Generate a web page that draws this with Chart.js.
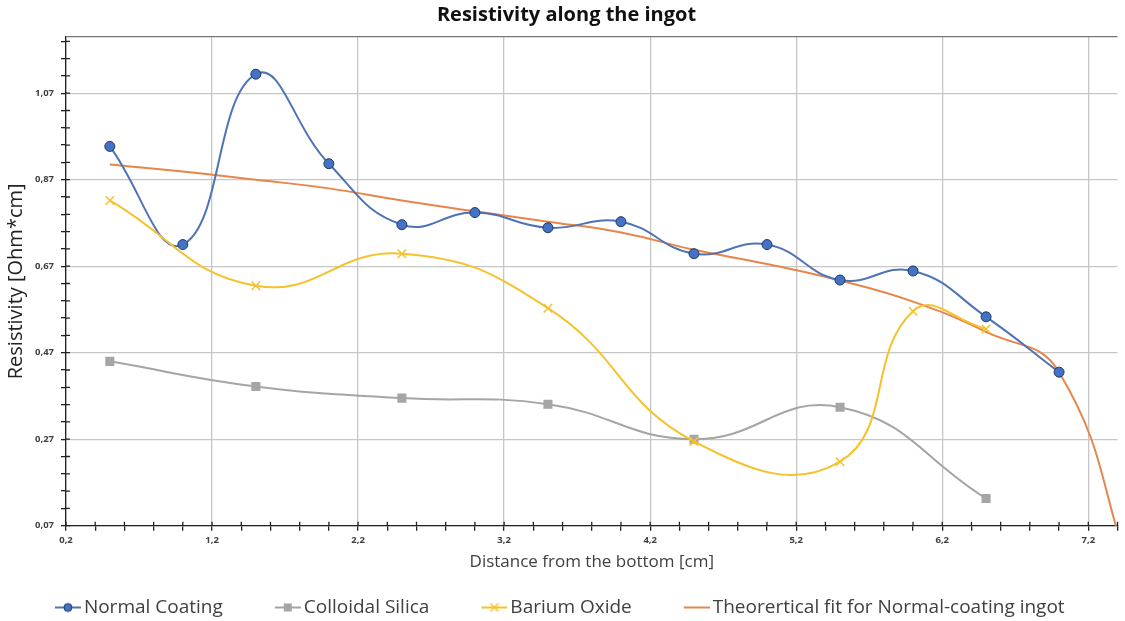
<!DOCTYPE html>
<html>
<head>
<meta charset="utf-8">
<script src="https://cdn.jsdelivr.net/npm/chart.js@4/dist/chart.umd.min.js"></script>
<style>
  html, body { margin: 0; padding: 0; background: #fff; }
  #wrap { width: 1125px; height: 621px; }
</style>
</head>
<body>
<div id="wrap"><canvas id="chart"></canvas></div>
<script>
const FONT = "'Open Sans', 'Noto Sans', sans-serif";

// x positions (cm) and resistivity values
const normalX = [0.5, 1, 1.5, 2, 2.5, 3, 3.5, 4, 4.5, 5, 5.5, 6, 6.5, 7];
const normalY = [0.947, 0.72, 1.114, 0.907, 0.766, 0.794, 0.759, 0.773, 0.699, 0.72, 0.638, 0.659, 0.553, 0.425];

const silicaX = [0.5, 1.5, 2.5, 3.5, 4.5, 5.5, 6.5];
const silicaY = [0.45, 0.392, 0.365, 0.351, 0.27, 0.344, 0.133];

const bariumX = [0.5, 1.5, 2.5, 3.5, 4.5, 5.5, 6, 6.5];
const bariumY = [0.822, 0.625, 0.699, 0.573, 0.265, 0.218, 0.566, 0.525];

const fitX = [0.5, 1, 1.5, 2, 2.5, 3, 3.5, 4, 4.5, 5, 5.5, 6, 6.5, 7, 7.5];
const fitY = [0.905, 0.889, 0.87, 0.85, 0.822, 0.797, 0.773, 0.748, 0.708, 0.675, 0.637, 0.588, 0.518, 0.425, -0.05];

// axes
const xMin = 0.2, xMax = 7.4, xMinorStep = 0.2;
const yMin = 0.07, yMax = 1.2, yMinorStep = 0.04;
const xMajorTicks = [0.2, 1.2, 2.2, 3.2, 4.2, 5.2, 6.2, 7.2];
const yMajorTicks = [0.07, 0.27, 0.47, 0.67, 0.87, 1.07];

const toPoints = (xs, ys) => xs.map((x, i) => ({ x, y: ys[i] }));
const isMajor = (v, list) => list.some((m) => Math.abs(m - v) < 1e-6);
const comma = (v, d) => v.toFixed(d).replace(".", ",");

function stepTicks(min, max, step, dec) {
  const out = [];
  for (let v = min; v <= max + 1e-9; v += step) out.push(+v.toFixed(dec));
  return out;
}
const xTickValues = stepTicks(xMin, xMax, xMinorStep, 1);
const yTickValues = stepTicks(yMin, yMax - 0.005, yMinorStep, 2).concat([yMax]);

// legend icon: line with the marker, drawn in the right 26px of the image
function makeIcon(color, marker) {
  const c = document.createElement("canvas");
  c.width = 59;
  c.height = 14;
  const g = c.getContext("2d");
  const x0 = 33, cx = x0 + 13, cy = 7;
  g.strokeStyle = color;
  g.lineWidth = 2;
  g.beginPath();
  g.moveTo(x0, cy);
  g.lineTo(x0 + 26, cy);
  g.stroke();
  if (marker === "circle") {
    g.fillStyle = "#4472C4";
    g.strokeStyle = "#203864";
    g.lineWidth = 1;
    g.beginPath();
    g.arc(cx, cy, 4, 0, Math.PI * 2);
    g.fill();
    g.stroke();
  } else if (marker === "rect") {
    g.fillStyle = "#A5A5A5";
    g.fillRect(cx - 4, cy - 4, 8, 8);
  } else if (marker === "cross") {
    g.lineWidth = 1.5;
    g.beginPath();
    g.moveTo(cx - 4, cy - 4); g.lineTo(cx + 4, cy + 4);
    g.moveTo(cx + 4, cy - 4); g.lineTo(cx - 4, cy + 4);
    g.stroke();
  }
  return c;
}

// nudge title / legend and draw the inner half of the tick marks
const tweaks = {
  id: "tweaks",
  afterLayout(chart) {
    chart.legend.left -= 13;
    chart.legend.right -= 13;
    chart.titleBlock.left += 7;
    chart.titleBlock.right += 7;
  },
  afterDraw(chart) {
    const { ctx, chartArea: a, scales } = chart;
    ctx.save();
    ctx.strokeStyle = "#222";
    ctx.lineWidth = 1.3;
    ctx.beginPath();
    xTickValues.forEach((v) => {
      const px = scales.x.getPixelForValue(v);
      ctx.moveTo(px, a.bottom);
      ctx.lineTo(px, a.bottom - 4);
    });
    yTickValues.forEach((v) => {
      if (v === yMax) return;
      const py = scales.y.getPixelForValue(v);
      ctx.moveTo(a.left, py);
      ctx.lineTo(a.left + 4, py);
    });
    ctx.stroke();
    ctx.restore();
  },
};

const datasets = [
  {
    label: "Normal Coating",
    data: toPoints(normalX, normalY),
    borderColor: "#4F74B6",
    backgroundColor: "#4472C4",
    pointBorderColor: "#203864",
    pointBorderWidth: 1,
    pointRadius: 5,
    pointStyle: "circle",
    icon: makeIcon("#4F74B6", "circle"),
  },
  {
    label: "Colloidal Silica",
    data: toPoints(silicaX, silicaY),
    borderColor: "#A5A5A5",
    backgroundColor: "#A5A5A5",
    pointBorderColor: "#A5A5A5",
    pointBorderWidth: 0,
    pointRadius: 6.4,
    pointStyle: "rect",
    icon: makeIcon("#A5A5A5", "rect"),
  },
  {
    label: "Barium Oxide",
    data: toPoints(bariumX, bariumY),
    borderColor: "#F5C22B",
    backgroundColor: "#F5C22B",
    pointBorderColor: "#F5C22B",
    pointBorderWidth: 1.5,
    pointRadius: 6,
    pointStyle: "crossRot",
    icon: makeIcon("#F5C22B", "cross"),
  },
  {
    label: "Theorertical fit for Normal-coating ingot",
    data: toPoints(fitX, fitY),
    borderColor: "#E8854A",
    backgroundColor: "#E8854A",
    pointRadius: 0,
    icon: makeIcon("#E8854A", "none"),
  },
];

new Chart(document.getElementById("chart"), {
  type: "line",
  data: { datasets: datasets.map((d, i) => ({ ...d, order: i === 3 ? 4 : 3 - i })) },
  plugins: [tweaks],
  options: {
    responsive: true,
    maintainAspectRatio: false,
    animation: false,
    events: [],
    layout: { padding: { left: 0, right: 6, top: 0, bottom: -6 } },
    elements: {
      line: { tension: 0.45, borderWidth: 2, capBezierPoints: false, fill: false },
    },
    plugins: {
      title: {
        display: true,
        text: "Resistivity along the ingot",
        color: "#111",
        font: { family: FONT, size: 20, weight: "bold" },
        padding: { top: 3, bottom: 10 },
      },
      legend: {
        position: "bottom",
        labels: {
          usePointStyle: true,
          pointStyleWidth: 46,
          padding: 25.5,
          color: "#404040",
          font: { family: FONT, size: 19 },
          generateLabels: (chart) =>
            chart.data.datasets.map((ds, i) => ({
              text: ds.label,
              pointStyle: ds.icon,
              fillStyle: "transparent",
              strokeStyle: "transparent",
              lineWidth: 0,
              hidden: false,
              datasetIndex: i,
              fontColor: "#404040",
            })),
        },
      },
      tooltip: { enabled: false },
    },
    scales: {
      x: {
        type: "linear",
        min: xMin,
        max: xMax,
        afterBuildTicks: (s) => { s.ticks = xTickValues.map((v) => ({ value: v })); },
        ticks: {
          autoSkip: false,
          maxRotation: 0,
          padding: 4,
          color: "#404040",
          font: { family: FONT, size: 9.5, weight: "bold" },
          callback: (v) => (isMajor(v, xMajorTicks) ? comma(v, 1) : ""),
        },
        grid: {
          color: (ctx) => (ctx.tick && isMajor(ctx.tick.value, xMajorTicks) ? "#C6C6C6" : "transparent"),
          lineWidth: 1.3,
          tickColor: "#222",
          tickLength: 5,
        },
        border: { color: "#222", width: 1.3 },
        title: {
          display: true,
          text: "Distance from the bottom [cm]",
          color: "#404040",
          font: { family: FONT, size: 17 },
          padding: { top: 2, bottom: 0 },
        },
      },
      y: {
        type: "linear",
        min: yMin,
        max: yMax,
        afterBuildTicks: (s) => { s.ticks = yTickValues.map((v) => ({ value: v })); },
        ticks: {
          autoSkip: false,
          padding: 7,
          color: "#404040",
          font: { family: FONT, size: 9.5, weight: "bold" },
          callback: (v) => (isMajor(v, yMajorTicks) ? comma(v, 2) : ""),
        },
        grid: {
          color: (ctx) => {
            if (!ctx.tick) return "transparent";
            if (ctx.tick.value === yMax) return "#777";
            return isMajor(ctx.tick.value, yMajorTicks) ? "#C6C6C6" : "transparent";
          },
          lineWidth: 1.3,
          tickColor: (ctx) => (ctx.tick && ctx.tick.value === yMax ? "transparent" : "#222"),
          tickLength: 5,
        },
        border: { color: "#222", width: 1.3 },
        title: {
          display: true,
          text: "Resistivity [Ohm*cm]",
          color: "#222",
          font: { family: FONT, size: 20 },
          padding: { top: 4, bottom: 0 },
        },
      },
    },
  },
});
</script>
</body>
</html>
